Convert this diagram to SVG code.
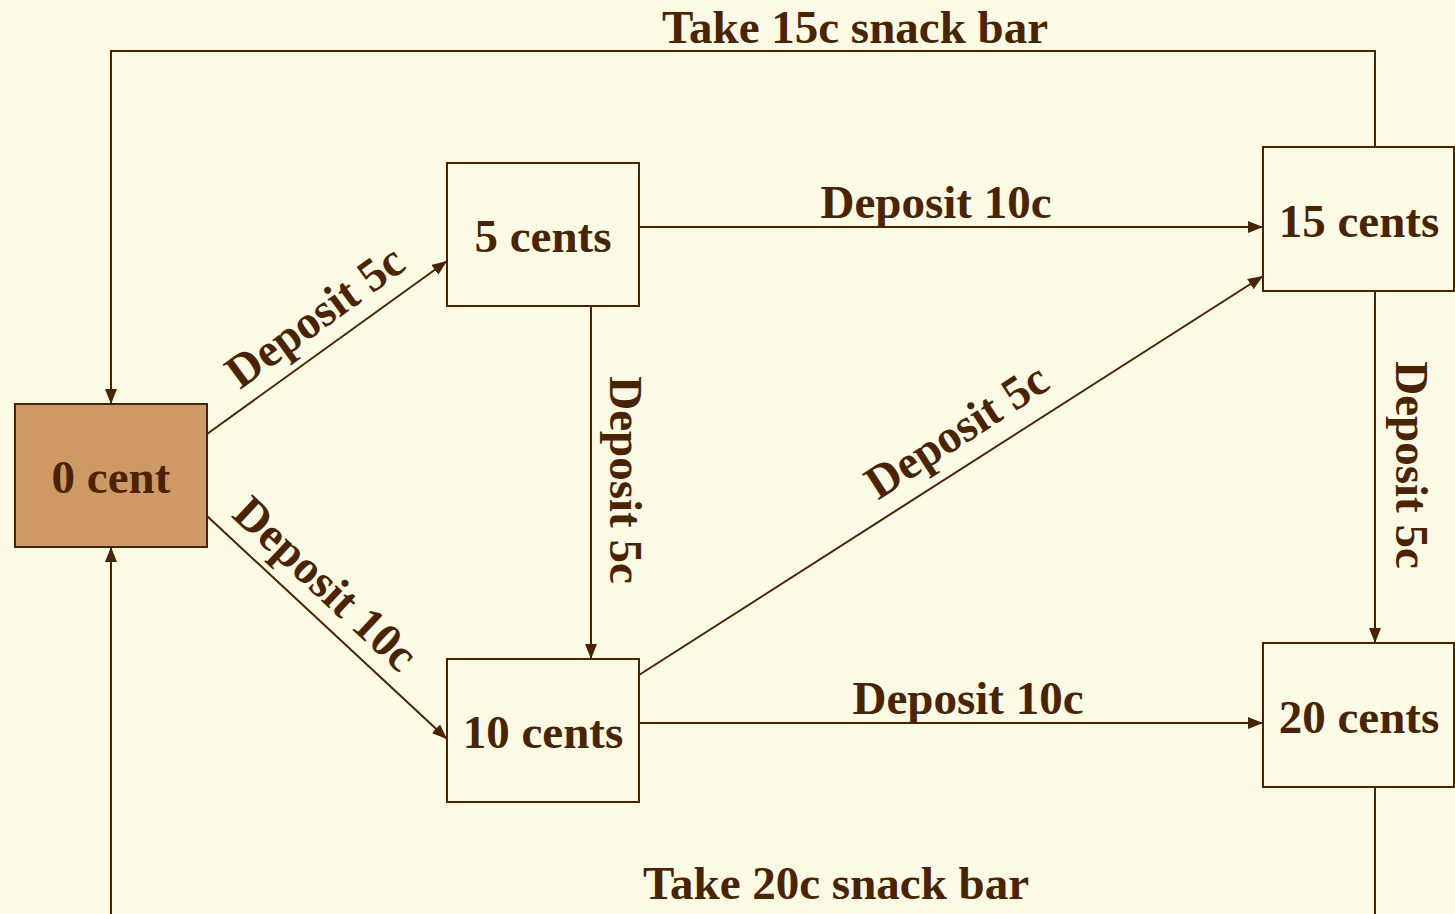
<svg xmlns="http://www.w3.org/2000/svg" width="1455" height="914" viewBox="0 0 1455 914">
  <style>
    .box { fill: #FBFAE4; stroke: #4A2300; stroke-width: 2; }
    .start { fill: #CF9966; }
    .lbl { font-family: "Liberation Serif", "Times New Roman", serif; font-weight: bold; font-size: 47px; fill: #4A2300; text-anchor: middle; }
    .edge { fill: none; stroke: #4A2300; stroke-width: 2; }
    .arr { marker-end: url(#head); }
  </style>
  <defs>
    <marker id="head" markerUnits="userSpaceOnUse" markerWidth="16" markerHeight="13" refX="15" refY="6" orient="auto">
      <path d="M0,0 L15,6 L0,12 z" fill="#4A2300"/>
    </marker>
  </defs>
  <rect width="1455" height="914" fill="#FBFAE4"/>

  <!-- transitions -->
  <g id="connectors">
    <path class="edge arr" d="M207,434 L447,261"/>
    <path class="edge arr" d="M207,516 L447,739"/>
    <path class="edge arr" d="M639,227 L1263,227"/>
    <path class="edge arr" d="M591,306 L591,659"/>
    <path class="edge arr" d="M639,675 L1263,276"/>
    <path class="edge arr" d="M639,723 L1263,723"/>
    <path class="edge arr" d="M1375,291 L1375,643"/>
    <path class="edge arr" d="M1375,147 L1375,51 L111,51 L111,404"/>
    <path class="edge" d="M1375,787 L1375,920"/>
    <path class="edge arr" d="M111,920 L111,547"/>

    <text class="lbl" x="855" y="43">Take 15c snack bar</text>
    <text class="lbl" x="836" y="899">Take 20c snack bar</text>
    <text class="lbl" x="936" y="218">Deposit 10c</text>
    <text class="lbl" x="968" y="714">Deposit 10c</text>
    <text class="lbl" transform="translate(324,329) rotate(-36)">Deposit 5c</text>
    <text class="lbl" transform="translate(315,595) rotate(43)">Deposit 10c</text>
    <text class="lbl" transform="translate(965,444) rotate(-33)">Deposit 5c</text>
    <text class="lbl" transform="translate(610,480) rotate(90)">Deposit 5c</text>
    <text class="lbl" transform="translate(1396,465) rotate(90)">Deposit 5c</text>
  </g>

  <!-- states -->
  <g id="s0">
    <rect class="box start" x="15" y="404" width="192" height="143"/>
    <text class="lbl" x="111" y="493">0 cent</text>
  </g>
  <g id="s5">
    <rect class="box" x="447" y="163" width="192" height="143"/>
    <text class="lbl" x="543" y="252">5 cents</text>
  </g>
  <g id="s10">
    <rect class="box" x="447" y="659" width="192" height="143"/>
    <text class="lbl" x="543" y="748">10 cents</text>
  </g>
  <g id="s15">
    <rect class="box" x="1263" y="147" width="191" height="144"/>
    <text class="lbl" x="1359" y="237">15 cents</text>
  </g>
  <g id="s20">
    <rect class="box" x="1263" y="643" width="191" height="144"/>
    <text class="lbl" x="1359" y="733">20 cents</text>
  </g>
</svg>
